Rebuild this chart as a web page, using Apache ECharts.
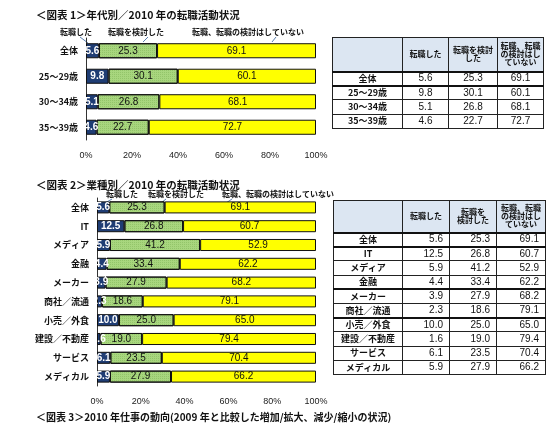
<!DOCTYPE html>
<html><head><meta charset="utf-8">
<script src="https://cdn.jsdelivr.net/npm/echarts@6/dist/echarts.min.js"></script>
<style>
html,body{margin:0;padding:0;background:#fff;}
#c{position:absolute;left:0;top:0;width:556px;height:426px;}
table{position:absolute;border-collapse:collapse;font-family:"Noto Sans CJK JP",sans-serif;color:#111;table-layout:fixed;}
td,th{border:1px solid #222;padding:0;line-height:1.05;}
th{background:#dce6f2;font-size:8px;font-weight:bold;}
td.l{font-size:9px;font-weight:bold;text-align:center;}
td.v{font-family:"Liberation Sans",Arial,sans-serif;font-size:10px;}
#t1 td.v{text-align:center;}
#t2 td.v{text-align:right;padding-right:6px;}
tr.tk td{border-bottom:2px solid #111;}
tr.hd th{border-bottom:2px solid #111;}
</style>
</head><body>
<div id="c"></div>
<table id="t1"></table>
<table id="t2"></table>
<script>
const seriesNames = ['転職した','転職を検討した','転職、転職の検討はしていない'];
const tableHeaders1 = ['転職した','転職を検討<br>した','転職、転職<br>の検討はし<br>ていない'];
const tableHeaders2 = ['転職した','転職を<br>検討した','転職、転職<br>の検討はし<br>ていない'];
const ageCats = ['全体','25～29歳','30～34歳','35～39歳'];
const ageChanged = [5.6, 9.8, 5.1, 4.6];
const ageConsidered = [25.3, 30.1, 26.8, 22.7];
const ageNone = [69.1, 60.1, 68.1, 72.7];
const indCats = ['全体','IT','メディア','金融','メーカー','商社／流通','小売／外食','建設／不動産','サービス','メディカル'];
const indChanged = [5.6, 12.5, 5.9, 4.4, 3.9, 2.3, 10.0, 1.6, 6.1, 5.9];
const indConsidered = [25.3, 26.8, 41.2, 33.4, 27.9, 18.6, 25.0, 19.0, 23.5, 27.9];
const indNone = [69.1, 60.7, 52.9, 62.2, 68.2, 79.1, 65.0, 79.4, 70.4, 66.2];
const titles = ['＜図表 1＞年代別／2010 年の転職活動状況','＜図表 2＞業種別／2010 年の転職活動状況','＜図表 3＞2010 年仕事の動向(2009 年と比較した増加/拡大、減少/縮小の状況)'];

const JP = '"Noto Sans CJK JP", sans-serif';
const AR = '"Liberation Sans", Arial, sans-serif';
const colors = ['#1f3d74','#a8d67e','#ffff00'];
const labelColors = ['#fff','#111','#111'];

function mkSeries(idx, arrs, gap){
  return arrs.map((d,i)=>{
    const itemStyle = {color:colors[i], borderColor:'#111', borderWidth:1};
    if (i === 1) itemStyle.decal = {color:'rgba(100,160,60,0.3)', symbol:'rect', symbolSize:1, dashArrayX:[1,1], dashArrayY:[1,1]};
    return {
      name: seriesNames[i], type:'bar', stack:'s'+idx, xAxisIndex:idx, yAxisIndex:idx,
      data:d, barCategoryGap:gap, itemStyle,
      label:{show:true, position:'inside', color:labelColors[i], fontSize:10,
        fontFamily:AR, fontWeight: i===0?'bold':'normal',
        formatter:p=>p.value.toFixed(1)},
      emphasis:{disabled:true}, animation:false
    };
  });
}
const xAx = (g)=>({type:'value', gridIndex:g, min:0, max:100, interval:20,
  axisLine:{show:false}, axisTick:{show:false}, splitLine:{show:false},
  axisLabel:{formatter:'{value}%', fontSize:9, color:'#222', margin:11, fontFamily:AR}});
const yAx = (g,cats)=>({type:'category', gridIndex:g, data:cats, inverse:true,
  axisLine:{show:true, lineStyle:{color:'#333', width:1}}, axisTick:{show:false},
  axisLabel:{fontSize:9, fontWeight:'bold', color:'#111', margin:8, fontFamily:JP}});

function legendText(x,y,t){return {type:'text', left:x, top:y, style:{text:t, fontSize:8, fontWeight:'bold', fontFamily:JP, fill:'#111'}};}
function lead(x1,y1,x2,y2){return {type:'line', shape:{x1,y1,x2,y2}, style:{stroke:'#5a7fb0', lineWidth:1}};}
const titleStyle = (fs)=>({fontSize:fs, fontWeight:'bold', color:'#111', fontFamily:JP});

const chart = echarts.init(document.getElementById('c'), null, {renderer:'canvas'});
chart.setOption({
  backgroundColor:'#fff',
  animation:false,
  title:[
    {text:titles[0], left:36, top:10, padding:0, textStyle:titleStyle(10.5)},
    {text:titles[1], left:36, top:180, padding:0, textStyle:titleStyle(10.5)},
    {text:titles[2], left:36, top:412, padding:0, textStyle:titleStyle(10)}
  ],
  grid:[
    {left:86, top:38, width:230, height:102},
    {left:97, top:198, width:219, height:188}
  ],
  xAxis:[xAx(0), xAx(1)],
  yAxis:[yAx(0,ageCats), yAx(1,indCats)],
  series:[...mkSeries(0,[ageChanged,ageConsidered,ageNone],'41%'), ...mkSeries(1,[indChanged,indConsidered,indNone],'36%')],
  graphic:[
    legendText(60,28,seriesNames[0]), legendText(108,28,seriesNames[1]), legendText(192,28,seriesNames[2]),
    lead(80,37,88,43), lead(148,37,143,42), lead(276,37,272,42),
    legendText(106,190,seriesNames[0]), legendText(148,190,seriesNames[1]), legendText(222,190,seriesNames[2]),
    lead(112,199,105,203), lead(166,199,161,203), lead(232,199,226,203)
  ]
});

function buildTable(id, cats, cols, heads, left, top, widths, hh, rh, thick){
  const t = document.getElementById(id);
  t.style.left = left+'px'; t.style.top = top+'px';
  let h = '<colgroup>' + widths.map(w=>'<col style="width:'+w+'px">').join('') + '</colgroup>';
  h += '<tr class="hd" style="height:'+hh+'px"><th></th>' + heads.map(s=>'<th>'+s+'</th>').join('') + '</tr>';
  cats.forEach((c,i)=>{
    h += '<tr style="height:'+rh+'px"'+(thick.includes(i)?' class="tk"':'')+'><td class="l">'+c+'</td>' +
      cols.map(a=>'<td class="v">'+a[i].toFixed(1)+'</td>').join('') + '</tr>';
  });
  t.innerHTML = h;
}
buildTable('t1', ageCats, [ageChanged,ageConsidered,ageNone], tableHeaders1, 332, 37, [70,46,49,46], 34, 14.2, [0]);
buildTable('t2', indCats, [indChanged,indConsidered,indNone], tableHeaders2, 333, 200, [69,47,47,49], 32, 14.2, [0,3,5]);
</script>
</body></html>
